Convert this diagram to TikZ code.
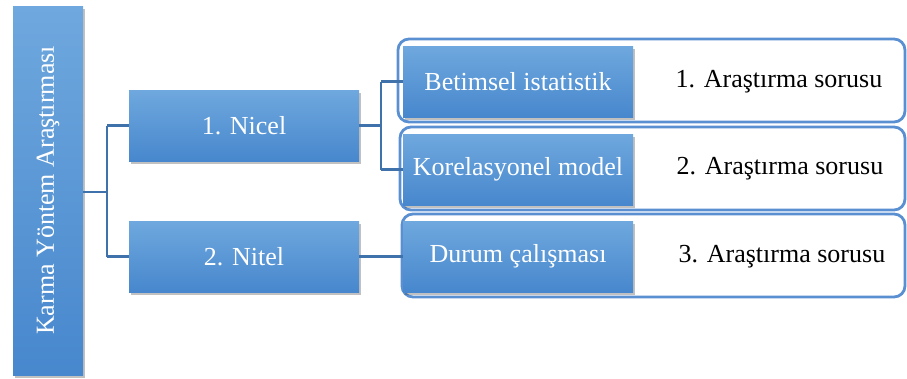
\documentclass[tikz,border=0pt]{standalone}
\usepackage{fontspec}
\setmainfont{Liberation Serif}
\usetikzlibrary{shadows,calc}
\definecolor{boxtop}{HTML}{6FA8DE}
\definecolor{boxbot}{HTML}{4787CD}
\definecolor{linkc}{HTML}{3F72AA}
\definecolor{framec}{HTML}{5A90D2}
\tikzset{
  bluebox/.style={draw=none, top color=boxtop, bottom color=boxbot,
    text=white, font=\fontsize{26}{28}\selectfont, inner sep=0pt,
    drop shadow={shadow xshift=2pt, shadow yshift=-3pt, opacity=0.35, fill=black!70}},
  framebox/.style={draw=framec, line width=2.8pt, rounded corners=11pt, fill=white},
  link/.style={draw=linkc, line width=2.6pt},
  plain/.style={font=\fontsize{26}{28}\selectfont, text=black}
}
\begin{document}
\begin{tikzpicture}[x=1pt,y=-1pt]
\useasboundingbox (0,0) rectangle (907,378);

% root box, text set vertically
\node[bluebox, minimum width=70pt, minimum height=369pt] (root) at (48,190.5) {};
\node[text=white, font=\fontsize{26}{28}\selectfont, rotate=90] (rootlabel) at (root.center) {Karma Yöntem Araştırması};

% second level
\node[bluebox, minimum width=230pt, minimum height=71pt] (nicel) at (244,125.5) {1. Nicel};
\node[bluebox, minimum width=230pt, minimum height=71pt] (nitel) at (244,256.5) {2. Nitel};

% third level: framed rows
\node[framebox, minimum width=507pt, minimum height=83pt] (f1) at (651.5,80.5) {};
\node[framebox, minimum width=505pt, minimum height=83pt] (f2) at (652.5,168.5) {};
\node[framebox, minimum width=503pt, minimum height=83pt] (f3) at (653.5,255.5) {};

\node[bluebox, minimum width=230pt, minimum height=71pt] (bet) at (518,81.5) {Betimsel istatistik};
\node[bluebox, minimum width=230pt, minimum height=71pt] (kor) at (518,169.5) {Korelasyonel model};
\node[bluebox, minimum width=230pt, minimum height=71pt] (dur) at (518,256.5) {Durum çalışması};

\node[plain] (q1) at (779,82) {1. Araştırma sorusu};
\node[plain] (q2) at (780,169) {2. Araştırma sorusu};
\node[plain] (q3) at (782,257) {3. Araştırma sorusu};

% connectors
\coordinate (j1) at (107,192);
\draw[link] (root.east |- j1) -- (j1);
\draw[link] (j1 |- nicel.west) -- (j1 |- nitel.west);
\draw[link] (j1 |- nicel.west) -- (nicel.west);
\draw[link] (j1 |- nitel.west) -- (nitel.west);

\coordinate (j2) at (381,125);
\draw[link] (nicel.east) -- (j2 |- nicel.east);
\draw[link] (j2 |- bet.west) -- (j2 |- kor.west);
\draw[link] (j2 |- bet.west) -- (bet.west);
\draw[link] (j2 |- kor.west) -- (kor.west);
\draw[link] (nitel.east) -- (dur.west);
\end{tikzpicture}
\end{document}
